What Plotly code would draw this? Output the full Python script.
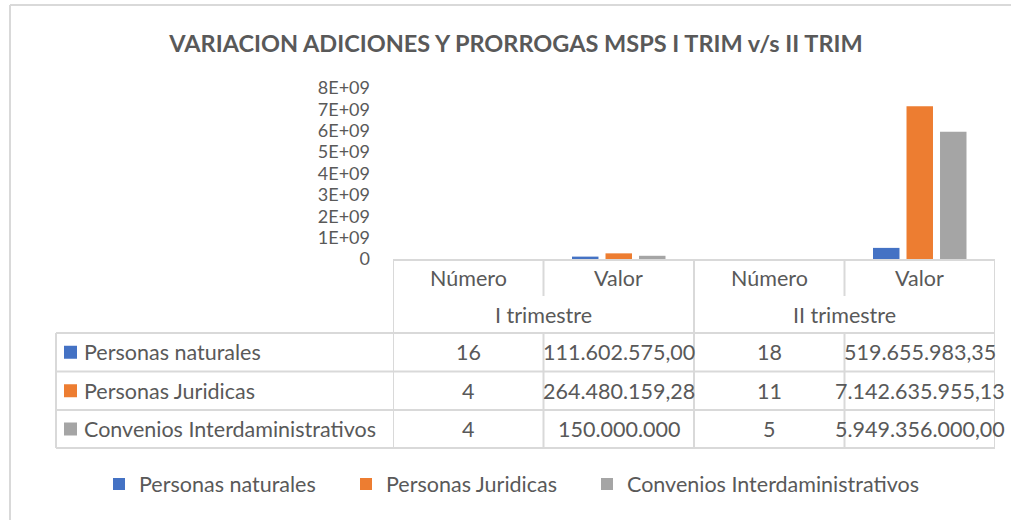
import plotly.graph_objects as go

# ---------------- data ----------------
quarters = ["I trimestre", "II trimestre"]
measures = ["Número", "Valor"]
series_names = ["Personas naturales", "Personas Juridicas", "Convenios Interdaministrativos"]
series_colors = ["#4472C4", "#ED7D31", "#A5A5A5"]

# values per series: [Número I, Valor I, Número II, Valor II]
naturales = [16, 111602575.00, 18, 519655983.35]
juridicas = [4, 264480159.28, 11, 7142635955.13]
convenios = [4, 150000000, 5, 5949356000.00]

# table cell texts as shown in the chart
naturales_txt = ["16", "111.602.575,00", "18", "519.655.983,35"]
juridicas_txt = ["4", "264.480.159,28", "11", "7.142.635.955,13"]
convenios_txt = ["4", "150.000.000", "5", "5.949.356.000,00"]

tick_vals = [0, 1e9, 2e9, 3e9, 4e9, 5e9, 6e9, 7e9, 8e9]
tick_text = ["0", "1E+09", "2E+09", "3E+09", "4E+09", "5E+09", "6E+09", "7E+09", "8E+09"]

# ---------------- layout helpers ----------------
W, H = 1011, 520
def px(x):
    return x / W
def py(y):
    return 1 - y / H

FONT = "Lato"
TXT = "#595959"
GRID = "#D9D9D9"
FS = 21.5

all_values = [naturales, juridicas, convenios]
all_texts = [naturales_txt, juridicas_txt, convenios_txt]
xpos = list(range(len(quarters) * len(measures)))
legend_ids = ["legend", "legend2", "legend3"]
legend_left_px = [99, 346, 587]

fig = go.Figure()
for name, color, vals, lid in zip(series_names, series_colors, all_values, legend_ids):
    fig.add_trace(go.Bar(x=xpos, y=vals, name=name, legend=lid,
                         marker=dict(color=color, line=dict(width=0))))

shapes = []
annotations = []

def hline(y, x0, x1):
    shapes.append(dict(type="line", xref="paper", yref="paper", x0=px(x0), x1=px(x1),
                       y0=py(y), y1=py(y), line=dict(color=GRID, width=2)))

def vline_x(xd, y0, y1):
    shapes.append(dict(type="line", xref="x", yref="paper", x0=xd, x1=xd,
                       y0=py(y0), y1=py(y1), line=dict(color=GRID, width=2)))

# table geometry (pixels)
T_TOP, H1, H2 = 260, 296, 333
ROWS = [333, 371.5, 410, 448]
LEFT = 56

hline(T_TOP, 393, 995)
for r in ROWS:
    hline(r, LEFT, 995)
# vertical lines
vline_x(-0.5, T_TOP, ROWS[-1])
vline_x(1.5, T_TOP, ROWS[-1])
vline_x(3.5, T_TOP, ROWS[-1])
vline_x(0.5, T_TOP, H1)
vline_x(2.5, T_TOP, H1)
vline_x(0.5, H2, ROWS[-1])
vline_x(2.5, H2, ROWS[-1])
shapes.append(dict(type="line", xref="paper", yref="paper", x0=px(LEFT), x1=px(LEFT),
                   y0=py(H2), y1=py(ROWS[-1]), line=dict(color=GRID, width=2)))

# chart border (top & left visible)
shapes.append(dict(type="line", xref="paper", yref="paper", x0=px(10), x1=px(1011),
                   y0=py(5), y1=py(5), line=dict(color=GRID, width=2)))
shapes.append(dict(type="line", xref="paper", yref="paper", x0=px(10), x1=px(10),
                   y0=py(5), y1=py(520), line=dict(color=GRID, width=2)))

def ann(x, y, text, xref="x", xanchor="center", size=FS):
    annotations.append(dict(x=x, y=py(y), xref=xref, yref="paper", text=text, showarrow=False,
                            xanchor=xanchor, yanchor="middle",
                            font=dict(family=FONT, size=size, color=TXT)))

# header rows
for qi, q in enumerate(quarters):
    for mi, m in enumerate(measures):
        ann(qi * len(measures) + mi, 278, m)
    ann(qi * len(measures) + 0.5, 314.5, q)

# data rows
for ri, (name, color, texts) in enumerate(zip(series_names, series_colors, all_texts)):
    yc = (ROWS[ri] + ROWS[ri + 1]) / 2
    shapes.append(dict(type="rect", xref="paper", yref="paper", x0=px(64), x1=px(77),
                       y0=py(yc - 6.5), y1=py(yc + 6.5), fillcolor=color, line=dict(width=0)))
    ann(px(82), yc, name, xref="paper", xanchor="left")
    for ci, t in enumerate(texts):
        ann(xpos[ci], yc, t)

legend_style = dict(orientation="h", xanchor="left", y=py(484), yanchor="middle",
                    font=dict(family=FONT, size=FS, color=TXT), bgcolor="rgba(0,0,0,0)")

fig.update_layout(
    width=W, height=H,
    margin=dict(l=0, r=0, t=0, b=0, autoexpand=False),
    paper_bgcolor="white", plot_bgcolor="white",
    barmode="group", bargap=0.332, bargroupgap=0.21,
    title=dict(text="<b>VARIACION ADICIONES Y PRORROGAS MSPS I TRIM v/s II TRIM</b>",
               x=px(516), xanchor="center", y=py(44), yanchor="middle",
               font=dict(family=FONT, size=23.5, color=TXT)),
    xaxis=dict(domain=[px(393), px(995)], range=[-0.5, 3.5], showticklabels=False,
               showgrid=False, zeroline=False, showline=False, ticks=""),
    yaxis=dict(domain=[py(259), py(88)], range=[0, 8e9], tickvals=tick_vals, ticktext=tick_text,
               showgrid=False, zeroline=False, showline=False, ticks="",
               ticklabelstandoff=22,
               tickfont=dict(family=FONT, size=18, color=TXT)),
    legend=dict(x=px(legend_left_px[0]), **legend_style),
    legend2=dict(x=px(legend_left_px[1]), **legend_style),
    legend3=dict(x=px(legend_left_px[2]), **legend_style),
    shapes=shapes,
    annotations=annotations,
    showlegend=True,
)

fig.write_html("out.html", config={"displayModeBar": False},
               post_script="document.body.style.margin='0';")
